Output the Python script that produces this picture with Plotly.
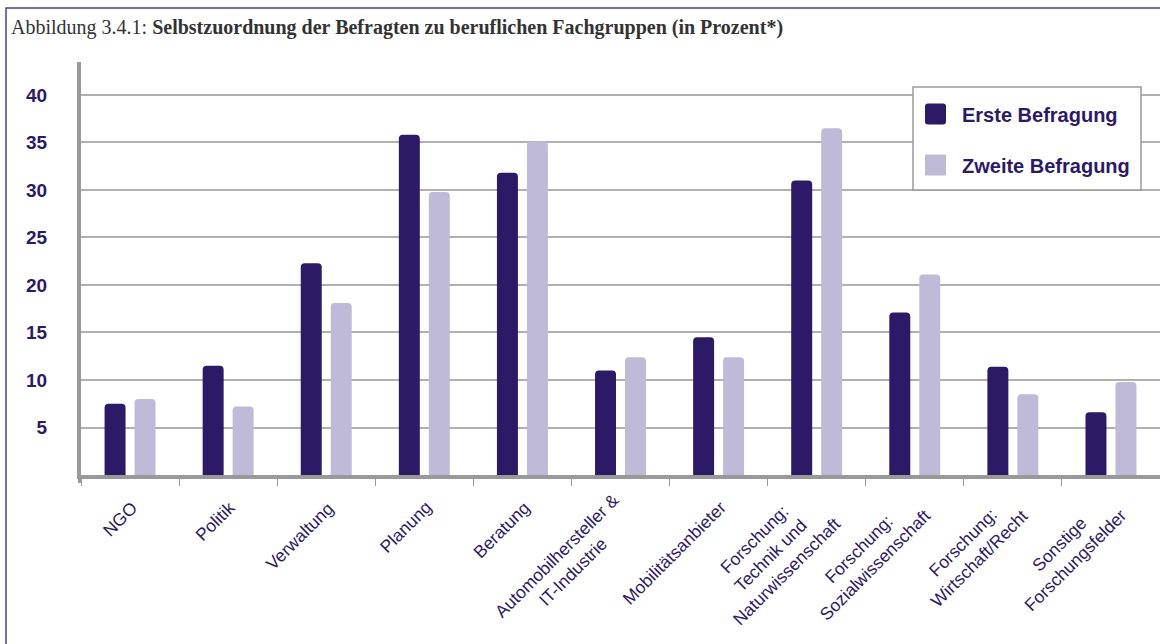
import plotly.graph_objects as go

# ---- data ----
categories = [
    "NGO", "Politik", "Verwaltung", "Planung", "Beratung",
    "Automobilhersteller &<br>IT-Industrie", "Mobilitätsanbieter",
    "Forschung:<br>Technik und<br>Naturwissenschaft",
    "Forschung:<br>Sozialwissenschaft", "Forschung:<br>Wirtschaft/Recht",
    "Sonstige<br>Forschungsfelder",
]
erste = [7.5, 11.5, 22.3, 35.8, 31.8, 11.0, 14.5, 31.0, 17.1, 11.4, 6.6]
zweite = [8.0, 7.2, 18.1, 29.8, 35.1, 12.4, 12.4, 36.5, 21.1, 8.5, 9.8]
series_names = ["Erste Befragung", "Zweite Befragung"]
y_ticks = [5, 10, 15, 20, 25, 30, 35, 40]
title_prefix = "Abbildung 3.4.1: "
title_bold = "Selbstzuordnung der Befragten zu beruflichen Fachgruppen (in Prozent*)"

# ---- style ----
W, H = 1160, 644
ML, MR, MT, MB = 81, 0, 62, 169
DARK = "#2c1a66"
LIGHT = "#bfbad8"
TXT = "#2d1a66"
AXIS = "#999999"
SANS = "Liberation Sans, Arial, sans-serif"
SERIF = "Liberation Serif, Times New Roman, serif"

PW = W - ML - MR
PH = H - MT - MB


def px(x):
    return (x - ML) / PW


def py(y):
    return (H - MB - y) / PH


fig = go.Figure()
for name, vals, col in [(series_names[0], erste, DARK), (series_names[1], zweite, LIGHT)]:
    fig.add_trace(go.Bar(
        x=categories, y=vals, name=name,
        marker=dict(color=col, line=dict(width=0), cornerradius=4),
        showlegend=False, hoverinfo="x+y",
    ))

shapes = []
annotations = []

# page frame
shapes.append(dict(type="rect", xref="paper", yref="paper",
                   x0=px(6), x1=px(W + 20), y0=py(8), y1=py(H + 20),
                   line=dict(color="#4a3f8c", width=1.5), fillcolor="rgba(0,0,0,0)",
                   layer="below"))

# small extension of the y axis line below the baseline
shapes.append(dict(type="line", xref="paper", yref="paper",
                   x0=px(ML - 1), x1=px(ML - 1), y0=py(H - MB), y1=py(H - MB + 8),
                   line=dict(color=AXIS, width=4), layer="above"))

# title
annotations.append(dict(xref="paper", yref="paper", x=px(9), y=py(27),
                        xanchor="left", yanchor="middle", showarrow=False,
                        text=title_prefix + "<b>" + title_bold + "</b>",
                        font=dict(family=SERIF, size=20, color="#333333")))

# rotated category labels
LAB_SIZE = 17.5
line_h = LAB_SIZE * 1.3
for cat in categories:
    n = cat.count("<br>") + 1
    off = 0.354 * n * line_h
    annotations.append(dict(xref="x", yref="paper", x=cat, y=py(503),
                            xanchor="right", yanchor="top", showarrow=False,
                            text=cat, textangle=-45, align="center",
                            xshift=6 + off, yshift=off,
                            font=dict(family=SANS, size=LAB_SIZE, color=TXT)))

# legend (manual)
shapes.append(dict(type="rect", xref="paper", yref="paper",
                   x0=px(913), x1=px(1141), y0=py(190), y1=py(87),
                   line=dict(color="#9a9a9a", width=1.5), fillcolor="white",
                   layer="above"))


def rounded_rect_path(x0, y0, x1, y1, r):
    # pixel coords (y down) -> paper coords path with rounded corners
    pts = [
        f"M {px(x0 + r)},{py(y0)}",
        f"L {px(x1 - r)},{py(y0)}",
        f"Q {px(x1)},{py(y0)} {px(x1)},{py(y0 + r)}",
        f"L {px(x1)},{py(y1 - r)}",
        f"Q {px(x1)},{py(y1)} {px(x1 - r)},{py(y1)}",
        f"L {px(x0 + r)},{py(y1)}",
        f"Q {px(x0)},{py(y1)} {px(x0)},{py(y1 - r)}",
        f"L {px(x0)},{py(y0 + r)}",
        f"Q {px(x0)},{py(y0)} {px(x0 + r)},{py(y0)}",
        "Z",
    ]
    return " ".join(pts)


for i, (name, col) in enumerate(zip(series_names, [DARK, LIGHT])):
    cy = 114 + i * 51
    radius = 3 if i == 0 else 0.01
    shapes.append(dict(type="path", xref="paper", yref="paper",
                       path=rounded_rect_path(925, cy - 10.5, 946, cy + 10.5, radius),
                       line=dict(width=0), fillcolor=col, layer="above"))
    annotations.append(dict(xref="paper", yref="paper", x=px(960), y=py(cy + 1),
                            xanchor="left", yanchor="middle", showarrow=False,
                            text="<b>" + name + "</b>",
                            font=dict(family=SANS, size=20, color=TXT)))

fig.update_layout(
    width=W, height=H, autosize=False,
    margin=dict(l=ML, r=MR, t=MT, b=MB, pad=0),
    paper_bgcolor="white", plot_bgcolor="white",
    barmode="group", bargap=0.389, bargroupgap=0.3,
    shapes=shapes, annotations=annotations,
    font=dict(family=SANS, color=TXT),
)
fig.update_xaxes(
    type="category", showticklabels=False,
    showline=True, linecolor=AXIS, linewidth=4,
    ticks="outside", tickson="boundaries", ticklen=7, tickwidth=1, tickcolor=AXIS,
    showgrid=False, zeroline=False, fixedrange=True,
)
fig.update_yaxes(
    range=[0, 43.47], tickvals=y_ticks, ticktext=[str(v) for v in y_ticks],
    tickfont=dict(family=SANS, size=19, color=TXT, weight="bold"),
    showline=True, linecolor=AXIS, linewidth=4,
    showgrid=True, gridcolor="#b0b0b0", gridwidth=1.5,
    zeroline=False, ticks="", ticklabelstandoff=26, fixedrange=True,
)

fig.write_html("out.html", config={"displayModeBar": False},
               post_script="document.body.style.margin='0';")
